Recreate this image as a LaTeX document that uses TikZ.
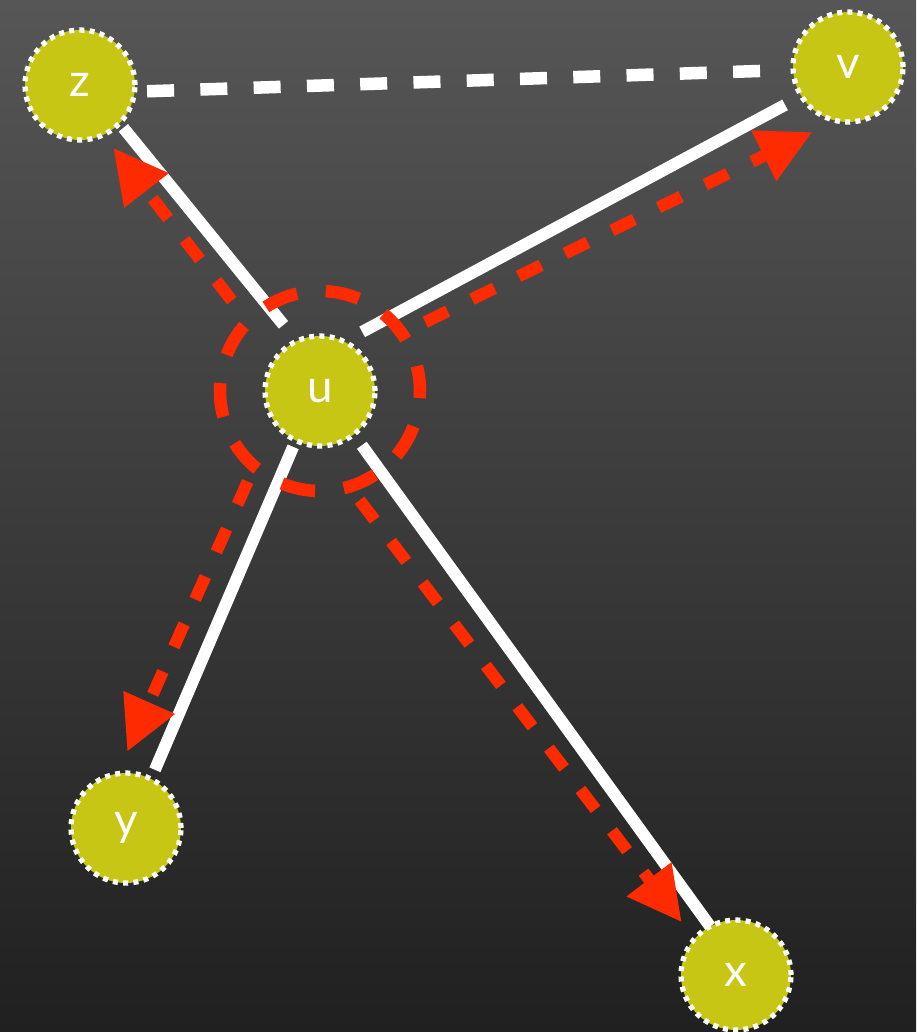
\documentclass[tikz,border=0pt]{standalone}
\usepackage{fontspec}
\setsansfont{Lato}
\usepackage{xcolor}
\usetikzlibrary{arrows.meta}
\definecolor{bgtop}{HTML}{565656}
\definecolor{bgbottom}{HTML}{202020}
\definecolor{knotfill}{HTML}{C8C614}
\definecolor{hopred}{HTML}{FF2B00}
\begin{document}
\begin{tikzpicture}[x=0.2mm,y=-0.2mm,
  vertex/.style={circle,fill=knotfill,draw=white,line width=1.05mm,dash pattern=on 1mm off 1.05mm,
    minimum size=22mm,inner sep=0pt,outer sep=0pt,text=white,font=\sffamily\fontsize{26}{30}\selectfont},
  link/.style={white,line width=2.4mm},
  farlink/.style={white,line width=2.5mm,dash pattern=on 5.4mm off 5.26mm},
  ring/.style={circle,draw=hopred,line width=2.5mm,dash pattern=on 6.8mm off 5.8mm,dash phase=1.75mm,
    minimum size=40mm,inner sep=0pt,outer sep=0pt},
  hop/.style={hopred,line width=2.4mm,dash pattern=on 5mm off 5.4mm,-{Triangle[length=10.8mm,width=10.6mm]}}]
\useasboundingbox (0,0) rectangle (916,1032);
\shade[top color=bgtop,bottom color=bgbottom] (0,0) rectangle (916,1032);
\node[vertex] (z) at (80,85) {z};
\node[vertex] (v) at (848,67) {v};
\node[vertex] (u) at (320,391) {u};
\node[vertex] (y) at (126,828) {y};
\node[vertex] (x) at (736,975) {x};
% links
\draw[farlink,shorten <=2.5mm,shorten >=6.4mm] (z.-7) -- (v.183);
\draw[link,shorten <=1.2mm,shorten >=4.2mm] (z.-44) -- (u.115);
\draw[link,shorten <=4.1mm,shorten >=3.7mm] (u.64) -- (v.212);
\draw[link,shorten <=1.4mm,shorten >=2mm] (u.244) -- (y.63);
\draw[link,shorten <=2.7mm] (u.-52) -- (x.118);
% neighbourhood of u
\node[ring] (r) at (u) {};
\draw[hop,shorten <=5.3mm,shorten >=3.3mm] (r.136) -- (z.-65);
\draw[hop,shorten <=5.2mm,shorten >=5.2mm] (r.35) -- (v.257);
\draw[hop,shorten <=3.3mm,shorten >=4.8mm] (r.229) -- (y.99);
\draw[hop,shorten <=3.4mm,shorten >=4.2mm] (r.-73) -- (x.139);
\end{tikzpicture}
\end{document}
